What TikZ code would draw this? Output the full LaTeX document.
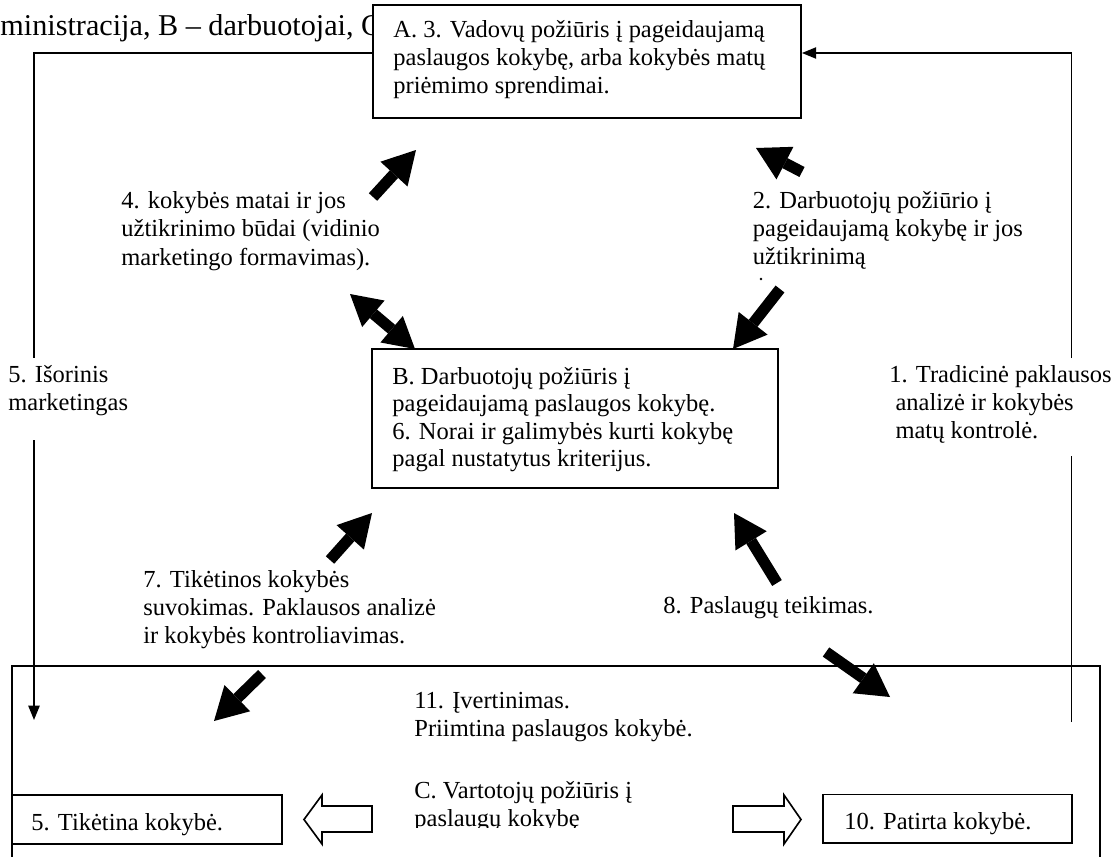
\documentclass[tikz,border=0pt]{standalone}
\usepackage{fontspec}
\setmainfont{Liberation Serif}
\usetikzlibrary{arrows.meta}

% multi-line label: first baseline is the node's base, fixed line spacing #1
\newcommand\lbl[2]{\vtop{\fontsize{12}{#1}\selectfont\lineskiplimit=-\maxdimen\lineskip=0pt
  \halign{##\hfil\cr#2\crcr}}}

\tikzset{
  box/.style={draw, line width=0.9pt, fill=white, inner sep=0pt},
  txt/.style={anchor=base west, inner sep=0pt, font=\fontsize{12}{14}\selectfont},
  conn/.style={line width=0.8pt},
  smalltip/.style={-{Triangle[length=7pt,width=5.5pt]}},
  blk/.style={line width=5.5pt, -{Triangle[length=16pt,width=18pt,line width=0pt]}},
  blkboth/.style={line width=5.5pt, {Triangle[length=15pt,width=17pt,line width=0pt]}-{Triangle[length=15pt,width=17pt,line width=0pt]}},
  hollow/.style={draw, line width=0.8pt, fill=white},
}

\begin{document}
\begin{tikzpicture}[x=0.49pt,y=-0.49pt]
\useasboundingbox (0,0) rectangle (1119,856);
\clip (0,0) rectangle (1119,856);

% customer frame C (open at the bottom)
\node[box, fill=none, minimum width=533.12pt, minimum height=114.66pt] (frameC) at (556,783) {};

% legend line behind box A
\node[txt, font=\fontsize{14.8}{16}\selectfont] (legend) at (0,35) {ministracija, B – darbuotojai, C};

% box A
\node[box, minimum width=209.72pt, minimum height=55.37pt] (boxA) at (587,61.5) {};
\node[txt] (tA) at (393,37) {\lbl{13.9pt}{A. 3. Vadovų požiūris į pageidaujamą\cr
  paslaugos kokybę, arba kokybės matų\cr
  priėmimo sprendimai.}};

% box B
\node[box, minimum width=198.94pt, minimum height=68.11pt] (boxB) at (575,418.5) {};
\node[txt] (tB) at (392,384) {\lbl{13.5pt}{B. Darbuotojų požiūris į\cr
  pageidaujamą paslaugos kokybę.\cr
  6. Norai ir galimybės kurti kokybę\cr
  pagal nustatytus kriterijus.}};

% boxes inside frame C
\node[box, minimum width=132.3pt, minimum height=24.01pt] (boxT) at (147,819.5) {};
\node[txt] (tT) at (31,830) {5. Tikėtina kokybė.};
\node[box, minimum width=121.81pt, minimum height=23.77pt] (boxP) at (947.3,818.75) {};
\node[txt] (tP) at (844,829.5) {10. Patirta kokybė.};

% free labels
\node[txt] (t4) at (121,208) {\lbl{14pt}{4. kokybės matai ir jos\cr
  užtikrinimo būdai (vidinio\cr
  marketingo formavimas).}};
\node[txt] (t2) at (752.5,208) {\lbl{13.9pt}{2. Darbuotojų požiūrio į\cr
  pageidaujamą kokybę ir jos\cr
  užtikrinimą}};
\fill (761,279) circle (1.3);
\node[txt] (t5) at (8,382) {\lbl{13.8pt}{5. Išorinis\cr marketingas}};
\node[txt] (t1) at (889,382) {\lbl{13.8pt}{1. Tradicinė paklausos\cr
  \ analizė ir kokybės\cr
  \ matų kontrolė.}};
\node[txt] (t7) at (143,587) {\lbl{13.8pt}{7. Tikėtinos kokybės\cr
  suvokimas. Paklausos analizė\cr
  ir kokybės kontroliavimas.}};
\node[txt] (t8) at (663,613) {8. Paslaugų teikimas.};
\node[txt] (t11) at (414,708) {\lbl{13.8pt}{11. Įvertinimas.\cr
  Priimtina paslaugos kokybė.}};
\begin{scope}
  \clip (400,770) rectangle (800,827);
  \node[txt] (tC) at (414,798) {\lbl{13.8pt}{C. Vartotojų požiūris į\cr
    paslaugų kokybę}};
\end{scope}

% outer marketing line (left) and demand analysis line (right)
\coordinate (aL) at (boxA.west |- 0,53);
\coordinate (lc) at (34,53);
\coordinate (lg1) at (34,358);
\coordinate (lg2) at (34,440);
\coordinate (lend) at (34,720);
\draw[conn] (aL) -- (lc) -- (lg1);
\draw[conn, smalltip] (lg2) -- (lend);

\coordinate (rstart) at (1071.5,722);
\coordinate (rg1) at (1071.5,456);
\coordinate (rg2) at (1071.5,358);
\coordinate (rc) at (1071.5,53);
\coordinate (aR) at (boxA.east |- 0,53);
\draw[conn] (rstart) -- (rg1);
\draw[conn, smalltip] (rg2) -- (rc) -- (aR);

% block arrows between A, B and C
\coordinate (a4s) at (373,197);  \coordinate (a4e) at (416,150);
\coordinate (a2s) at (802,172);  \coordinate (a2e) at (756,148);
\coordinate (a2ds) at (780,289); \coordinate (a2de) at (733,349);
\coordinate (a4bs) at (350,294); \coordinate (a4be) at (415,349);
\coordinate (a7s) at (330,560);  \coordinate (a7e) at (372,513);
\coordinate (a8s) at (777,583);  \coordinate (a8e) at (734,513);
\coordinate (a7ds) at (262,674); \coordinate (a7de) at (214,721);
\coordinate (a8ds) at (826,652); \coordinate (a8de) at (890,697);
\draw[blk] (a4s) -- (a4e);
\draw[blk] (a2s) -- (a2e);
\draw[blk] (a2ds) -- (a2de);
\draw[blkboth] (a4bs) -- (a4be);
\draw[blk] (a7s) -- (a7e);
\draw[blk] (a8s) -- (a8e);
\draw[blk] (a7ds) -- (a7de);
\draw[blk] (a8ds) -- (a8de);

% hollow arrows from C to the two quality boxes
\draw[hollow] (372,806) -- (322,806) -- (322,795) -- (304,819.5) -- (322,844) -- (322,832) -- (372,832) -- cycle;
\draw[hollow] (733,806) -- (784,806) -- (784,795) -- (801,819.5) -- (784,844) -- (784,832) -- (733,832) -- cycle;
\end{tikzpicture}
\end{document}
